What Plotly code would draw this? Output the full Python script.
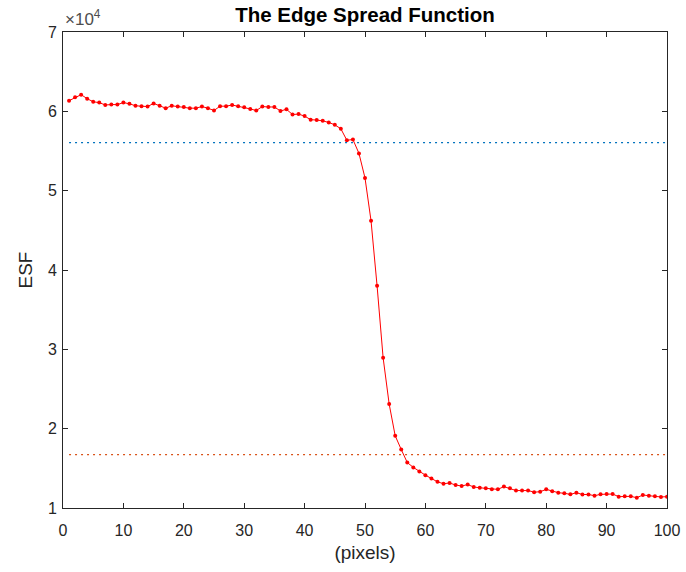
import plotly.graph_objects as go

# Data (ESF values in units of 1e4)
pixels = list(range(1, 101))
esf_e4 = [
    6.134, 6.177, 6.210, 6.160, 6.120, 6.110, 6.080, 6.085, 6.085, 6.110,
    6.095, 6.070, 6.065, 6.060, 6.100, 6.070, 6.040, 6.070, 6.060, 6.055,
    6.040, 6.040, 6.060, 6.040, 6.010, 6.065, 6.065, 6.080, 6.065, 6.050,
    6.030, 6.010, 6.060, 6.055, 6.055, 6.005, 6.025, 5.960, 5.965, 5.940,
    5.895, 5.890, 5.880, 5.860, 5.830, 5.780, 5.635, 5.645, 5.470, 5.160,
    4.620, 3.800, 2.894, 2.310, 1.910, 1.737, 1.573, 1.512, 1.460, 1.414,
    1.372, 1.330, 1.306, 1.315, 1.290, 1.277, 1.295, 1.265, 1.255, 1.248,
    1.235, 1.235, 1.270, 1.248, 1.220, 1.220, 1.220, 1.200, 1.205, 1.235,
    1.210, 1.193, 1.185, 1.172, 1.193, 1.170, 1.170, 1.155, 1.172, 1.176,
    1.176, 1.143, 1.147, 1.147, 1.130, 1.164, 1.155, 1.147, 1.139, 1.143,
]
esf = [v * 1e4 for v in esf_e4]
level_high = 56050
level_low = 16720

x_ticks = [0, 10, 20, 30, 40, 50, 60, 70, 80, 90, 100]
y_tickvals = [10000, 20000, 30000, 40000, 50000, 60000, 70000]
y_ticktext = ["1", "2", "3", "4", "5", "6", "7"]

FONT = "Liberation Sans, Arial, sans-serif"
AX = "#262626"

fig = go.Figure()
fig.add_trace(go.Scatter(
    x=pixels, y=esf, mode="lines+markers",
    line=dict(color="#FF0000", width=1),
    marker=dict(color="#FF0000", size=4),
    showlegend=False,
))
fig.add_trace(go.Scatter(
    x=[pixels[0], pixels[-1]], y=[level_high, level_high], mode="lines",
    line=dict(color="#0072BD", width=1.2, dash="2px,4px"), showlegend=False,
))
fig.add_trace(go.Scatter(
    x=[pixels[0], pixels[-1]], y=[level_low, level_low], mode="lines",
    line=dict(color="#D95319", width=1.2, dash="2px,4px"), showlegend=False,
))

fig.update_layout(
    width=686, height=572,
    margin=dict(l=63, r=19, t=32, b=64, autoexpand=False),
    plot_bgcolor="white", paper_bgcolor="white",
    font=dict(family=FONT, color=AX),
    title=dict(text="<b>The Edge Spread Function</b>", x=365 / 686, xanchor="center",
               y=1 - 15 / 572, yanchor="middle",
               font=dict(size=20.5, color="black", family=FONT)),
    xaxis=dict(
        range=[0, 100], tickvals=x_ticks, ticks="inside", ticklen=5, tickcolor=AX,
        showline=True, linecolor=AX, linewidth=1, mirror="ticks", showgrid=False,
        zeroline=False, tickfont=dict(size=16, color=AX, family=FONT),
        ticklabelstandoff=8,
        title=dict(text="(pixels)", font=dict(size=19, color=AX, family=FONT), standoff=7),
    ),
    yaxis=dict(
        range=[10000, 70000], tickvals=y_tickvals, ticktext=y_ticktext,
        ticks="inside", ticklen=5, tickcolor=AX,
        showline=True, linecolor=AX, linewidth=1, mirror="ticks", showgrid=False,
        zeroline=False, tickfont=dict(size=16, color=AX, family=FONT),
        ticklabelstandoff=2,
        title=dict(text="ESF", font=dict(size=19, color=AX, family=FONT), standoff=10),
    ),
    annotations=[dict(
        text="×10<sup>4</sup>", xref="paper", yref="paper", x=0.0, y=1.0,
        xanchor="left", yanchor="bottom", showarrow=False, xshift=0, yshift=1,
        font=dict(size=17, color="#4d4d4d", family=FONT),
    )],
)

fig.write_html(
    "out.html",
    config={"displayModeBar": False},
    post_script="document.body.style.margin='0';document.body.style.overflow='hidden';",
)
